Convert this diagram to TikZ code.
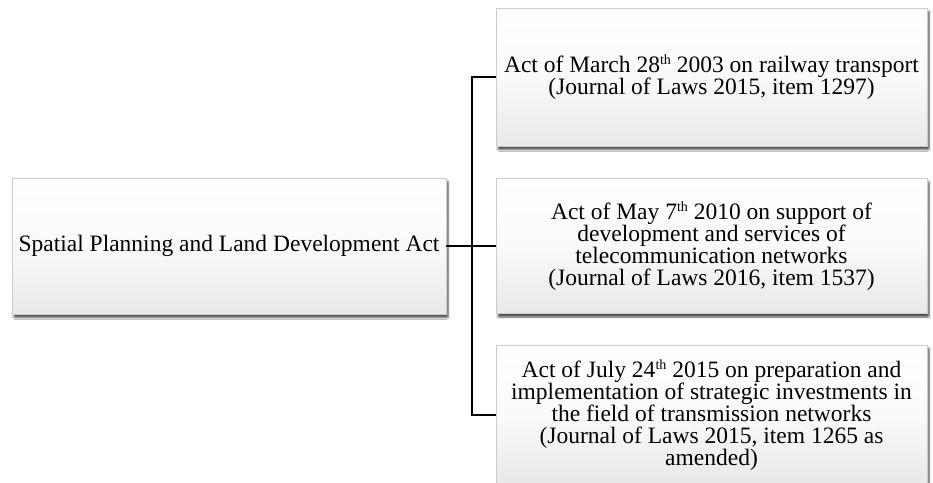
\documentclass[tikz,border=0pt]{standalone}
\usepackage{fontspec}
\setmainfont{Liberation Serif}
\usetikzlibrary{shadows.blur}
\newcommand{\thsup}{\raisebox{0.36em}{\fontsize{14}{14}\selectfont th}}
\begin{document}
\begin{tikzpicture}[x=1pt,y=-1pt,
  actbox/.style={rectangle, draw=gray!40, line width=0.7pt,
    top color=white, bottom color=gray!18, middle color=gray!4,
    minimum width=431pt, inner sep=0pt, align=center,
    font=\fontsize{23.5}{22}\selectfont,
    blur shadow={shadow xshift=2pt, shadow yshift=-3.5pt, shadow opacity=70, shadow blur steps=6, shadow blur extra rounding=1pt}},
  link/.style={draw=black, line width=1.8pt}]
\useasboundingbox (0,0) rectangle (933,482);
\clip (0,0) rectangle (933,482);
\fill[white] (0,0) rectangle (933,482);
\node[actbox, minimum width=434pt, minimum height=136pt] (L) at (229,246)
  {Spatial Planning and Land Development Act};
\node[actbox, minimum height=138pt] (T) at (711.5,77)
  {Act of March 28\thsup{} 2003 on railway transport\\(Journal of Laws 2015, item 1297)};
\node[actbox, minimum height=135pt] (M) at (711.5,246)
  {Act of May 7\thsup{} 2010 on support of\\development and services of\\telecommunication networks\\(Journal of Laws 2016, item 1537)};
\node[actbox, minimum height=140pt] (B) at (711.5,415)
  {Act of July 24\thsup{} 2015 on preparation and\\implementation of strategic investments in\\the field of transmission networks\\(Journal of Laws 2015, item 1265 as\\amended)};
\coordinate (J) at (472,246);
\draw[link] (L.east) -- (J);
\draw[link] (T.west) -| (J) |- (B.west);
\draw[link] (J) -- (M.west);
\end{tikzpicture}
\end{document}
